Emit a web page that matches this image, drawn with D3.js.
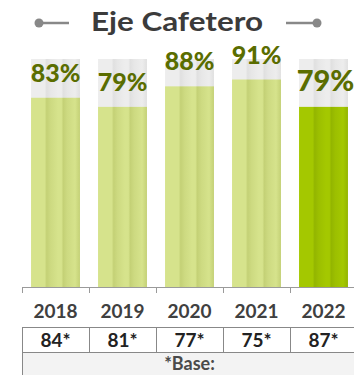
<!DOCTYPE html>
<html>
<head>
<meta charset="utf-8">
<script src="https://cdn.jsdelivr.net/npm/d3@7"></script>
<style>
  html, body { margin: 0; padding: 0; background: #ffffff; }
  svg { display: block; }
</style>
</head>
<body>
<div id="chart"></div>
<script>
const title = "Eje Cafetero";
const years = ["2018", "2019", "2020", "2021", "2022"];
const values = [83, 79, 88, 91, 79];
const bases = ["84*", "81*", "77*", "75*", "87*"];
const baseLabel = "*Base:";

const W = 354, H = 375;
const svg = d3.select("#chart").append("svg").attr("width", W).attr("height", H);
const FONT = "Lato, 'DejaVu Sans', sans-serif";

const defs = svg.append("defs");
function stripeGrad(id, base, dark) {
  const g = defs.append("linearGradient").attr("id", id).attr("x1", "0%").attr("x2", "100%").attr("y1", "0%").attr("y2", "0%");
  const stops = [
    [0, base], [0.28, base], [0.32, dark], [0.40, d3.interpolateRgb(dark, base)(0.5)], [0.55, base],
    [0.62, base], [0.66, dark], [0.74, d3.interpolateRgb(dark, base)(0.5)], [0.9, base], [1, dark]
  ];
  stops.forEach(s => g.append("stop").attr("offset", (s[0]*100) + "%").attr("stop-color", s[1]));
}
stripeGrad("gBg", "#ededed", "#e0e0e0");
stripeGrad("gLight", "#d6e38c", "#c4d176");
stripeGrad("gDark", "#a4c800", "#93b500");

const x = d3.scaleBand().domain(years).range([22, 357]).paddingInner(0.27).paddingOuter(0.135);
const y = d3.scaleLinear().domain([0, 100]).range([287, 59]);
const step = x.step();
const left = 22;

// Title
const tg = svg.append("g");
tg.append("text").attr("x", 177).attr("y", 31).attr("text-anchor", "middle")
  .attr("font-family", FONT).attr("font-weight", "bold").attr("font-size", 27)
  .attr("fill", "#3b3b3b").attr("textLength", 172).attr("lengthAdjust", "spacingAndGlyphs").text(title);
tg.append("line").attr("x1", 39).attr("x2", 69).attr("y1", 23).attr("y2", 23).attr("stroke", "#888").attr("stroke-width", 2.5);
tg.append("circle").attr("cx", 39).attr("cy", 23).attr("r", 4.5).attr("fill", "#888");
tg.append("line").attr("x1", 286).attr("x2", 317).attr("y1", 23).attr("y2", 23).attr("stroke", "#888").attr("stroke-width", 2.5);
tg.append("circle").attr("cx", 317).attr("cy", 23).attr("r", 4.5).attr("fill", "#888");

// Background bars
svg.append("g").selectAll("rect").data(years).join("rect")
  .attr("x", d => x(d)).attr("width", x.bandwidth())
  .attr("y", y(100)).attr("height", y(0) - y(100))
  .attr("fill", "url(#gBg)");

// Value bars
svg.append("g").selectAll("rect").data(values).join("rect")
  .attr("x", (d, i) => x(years[i])).attr("width", x.bandwidth())
  .attr("y", d => y(d)).attr("height", d => y(0) - y(d))
  .attr("fill", (d, i) => i === years.length - 1 ? "url(#gDark)" : "url(#gLight)");

// Value labels
svg.append("g").selectAll("text").data(values).join("text")
  .attr("x", (d, i) => x(years[i]) + x.bandwidth() / 2 + (i === years.length - 1 ? 2 : 0))
  .attr("y", d => y(d) - 16)
  .attr("text-anchor", "middle")
  .attr("font-family", FONT).attr("font-weight", 900)
  .attr("font-size", (d, i) => i === years.length - 1 ? 29 : 25)
  .attr("fill", "#5a6d00")
  .text(d => d + "%");

// Axis
const ax = svg.append("g").attr("stroke", "#9a9a9a").attr("stroke-width", 1);
ax.append("line").attr("x1", left).attr("x2", 357).attr("y1", 287.5).attr("y2", 287.5);
const bounds = d3.range(years.length + 1).map(i => left + i * step);
ax.selectAll("line.tick").data(bounds).join("line").attr("class", "tick")
  .attr("x1", d => Math.round(d) + 0.5).attr("x2", d => Math.round(d) + 0.5)
  .attr("y1", 287.5).attr("y2", 293);

// Year labels
svg.append("g").selectAll("text").data(years).join("text")
  .attr("x", d => x(d) + x.bandwidth() / 2).attr("y", 318)
  .attr("text-anchor", "middle").attr("font-family", FONT).attr("font-weight", "bold")
  .attr("font-size", 19).attr("fill", "#404040").text(d => d);

// Table
const tb = svg.append("g");
tb.append("rect").attr("x", left).attr("y", 352).attr("width", W - left).attr("height", H - 352).attr("fill", "#f3f3f3");
tb.append("line").attr("x1", left).attr("x2", W).attr("y1", 327.5).attr("y2", 327.5).attr("stroke", "#888");
tb.append("line").attr("x1", left).attr("x2", W).attr("y1", 352.5).attr("y2", 352.5).attr("stroke", "#888");
tb.selectAll("line.v").data(bounds).join("line").attr("class", "v")
  .attr("x1", d => Math.round(d) + 0.5).attr("x2", d => Math.round(d) + 0.5)
  .attr("y1", 327.5).attr("y2", 352.5).attr("stroke", "#888");
tb.append("line").attr("x1", left + 0.5).attr("x2", left + 0.5).attr("y1", 352.5).attr("y2", H).attr("stroke", "#888");
tb.selectAll("text.b").data(bases).join("text").attr("class", "b")
  .attr("x", (d, i) => x(years[i]) + x.bandwidth() / 2).attr("y", 347)
  .attr("text-anchor", "middle").attr("font-family", FONT).attr("font-weight", "bold")
  .attr("font-size", 19).attr("fill", "#222").text(d => d);
tb.append("text").attr("x", (left + 357) / 2).attr("y", 370)
  .attr("text-anchor", "middle").attr("font-family", FONT).attr("font-weight", "bold")
  .attr("font-size", 18).attr("fill", "#4a4a4a").text(baseLabel);
</script>
</body>
</html>
